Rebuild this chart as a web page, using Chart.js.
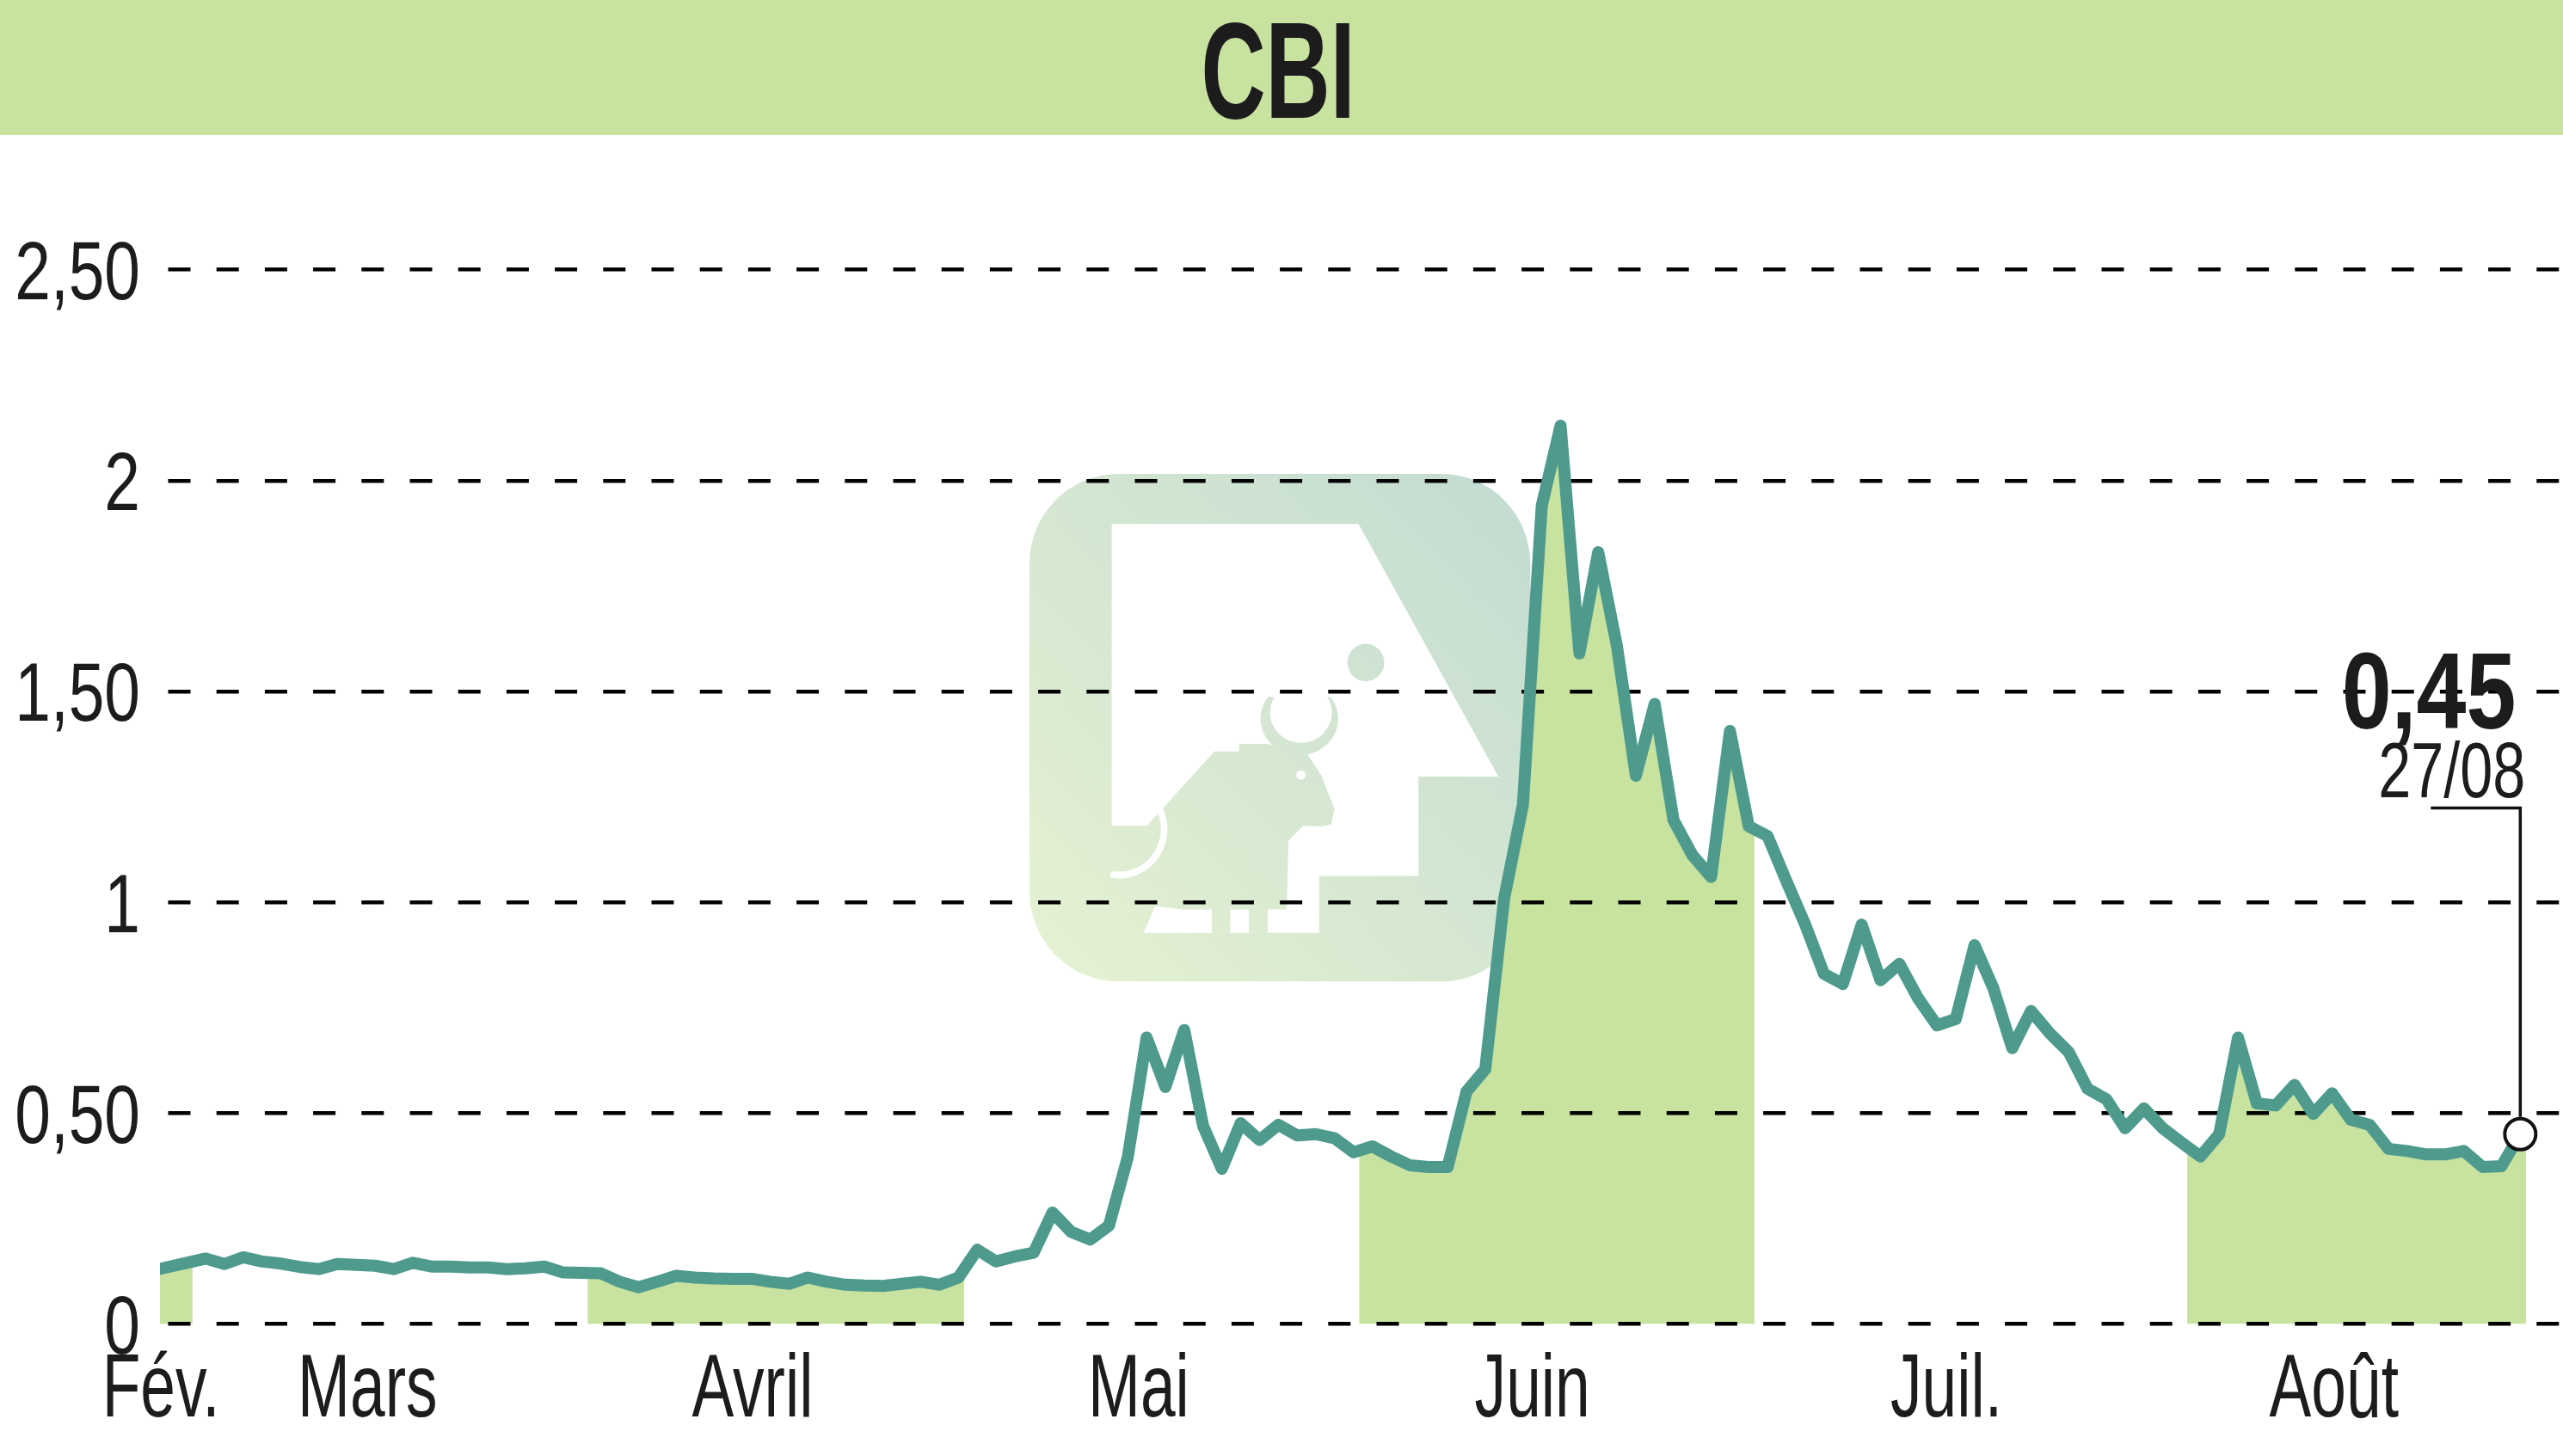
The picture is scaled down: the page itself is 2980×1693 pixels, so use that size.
<!DOCTYPE html>
<html>
<head>
<meta charset="utf-8">
<title>CBI</title>
<script src="https://cdn.jsdelivr.net/npm/chart.js@4.4.1/dist/chart.umd.min.js"></script>
<style>
  html, body { margin: 0; padding: 0; background: #fff; overflow: hidden; }
  #wrap { width: 2980px; height: 1693px; position: relative; }
  #wrap canvas { display: block; }
</style>
</head>
<body>
<div id="wrap"><canvas id="cbi"></canvas></div>
<script>
// --- data (one value per trading day) ---
const title = 'CBI';
const lastDate = '27/08';

const closes = [
  0.125, 0.135, 0.145, 0.155, 0.142, 0.158, 0.148, 0.143, 0.135, 0.13,
  0.142, 0.14, 0.138, 0.13, 0.145, 0.136, 0.136, 0.134, 0.134, 0.13,
  0.132, 0.136, 0.122, 0.121, 0.12, 0.1, 0.087, 0.1, 0.114, 0.11,
  0.108, 0.107, 0.107, 0.1, 0.095, 0.11, 0.1, 0.093, 0.091, 0.09,
  0.095, 0.1, 0.093, 0.11, 0.176, 0.148, 0.16, 0.169, 0.264, 0.218,
  0.2, 0.233, 0.395, 0.679, 0.562, 0.697, 0.47, 0.368, 0.476, 0.436,
  0.472, 0.447, 0.45, 0.44, 0.407, 0.421, 0.397, 0.376, 0.372, 0.372,
  0.551, 0.604, 1.008, 1.232, 1.94, 2.13, 1.59, 1.83, 1.606, 1.30,
  1.47, 1.195, 1.112, 1.06, 1.406, 1.18, 1.157, 1.05, 0.947, 0.83,
  0.806, 0.947, 0.815, 0.854, 0.772, 0.708, 0.723, 0.898, 0.796, 0.654,
  0.742, 0.689, 0.645, 0.558, 0.533, 0.464, 0.511, 0.464, 0.43, 0.397,
  0.45, 0.679, 0.523, 0.518, 0.567, 0.498, 0.547, 0.484, 0.472, 0.415,
  0.41, 0.402, 0.402, 0.41, 0.372, 0.374, 0.45
];

const monthLabels = ['Fév.', 'Mars', 'Avril', 'Mai', 'Juin', 'Juil.', 'Août'];
// where each month name sits, in trading-day units
const monthLabelPos = [0.62, 11.6, 32.06, 52.58, 73.5, 95.5, 116.1];
// month boundaries, in trading-day units (Feb starts before the window)
const monthEdges = [-1, 2.3, 23.3, 43.3, 64.3, 85.3, 108.3, 126.3];

const GREEN = '#c8e2a0';
const TEAL = '#4e9b8e';
const INK = '#1c1c1c';

const fmt = v => Number.isInteger(v) ? String(v) : v.toFixed(2).replace('.', ',');

// the original uses a condensed face, so squeeze text horizontally
function squeezeText(ctx, text, x, y, font, sx, align) {
    ctx.save();
    ctx.font = font;
    ctx.fillStyle = INK;
    ctx.textAlign = align;
    ctx.textBaseline = 'alphabetic';
    ctx.translate(x, y);
    ctx.scale(sx, 1);
    ctx.fillText(text, 0, 0);
    ctx.restore();
}

function poly(ctx, pts) {
    ctx.beginPath();
    pts.forEach(([x, y], i) => i ? ctx.lineTo(x, y) : ctx.moveTo(x, y));
    ctx.closePath();
    ctx.fill();
}

// faint watermark logo behind the curve
function drawLogo(ctx) {
    ctx.save();
    ctx.translate(1190, 540);
    ctx.scale(1 / 2.613, 1 / 2.570);
    const g = ctx.createLinearGradient(18, 1545, 1540, 28);
    g.addColorStop(0, '#e6f2d2');
    g.addColorStop(1, '#c2dbd1');

    ctx.fillStyle = g;
    ctx.beginPath();
    ctx.roundRect(18, 28, 1522, 1517, 270);
    ctx.fill();

    ctx.fillStyle = '#fff';
    poly(ctx, [[268, 178], [1018, 178], [1443, 933], [1200, 933], [1200, 1230], [898, 1230],
        [898, 1400], [365, 1400], [400, 1320], [440, 1320], [440, 1080], [268, 1080]]);

    ctx.fillStyle = g;
    poly(ctx, [[375, 1080], [580, 858], [655, 858], [655, 835], [740, 835], [860, 862], [905, 930],
        [945, 1030], [935, 1075], [905, 1082], [850, 1080], [805, 1125], [800, 1330], [742, 1330],
        [742, 1400], [685, 1400], [685, 1330], [628, 1330], [628, 1400], [572, 1400], [572, 1330],
        [480, 1330], [400, 1320], [375, 1320]]);

    ctx.beginPath();
    ctx.arc(1040, 592, 56, 0, Math.PI * 2);
    ctx.fill();

    // horns
    ctx.save();
    ctx.beginPath();
    ctx.rect(600, 695, 450, 300);
    ctx.clip();
    ctx.beginPath();
    ctx.ellipse(838, 760, 118, 110, 0, 0, Math.PI * 2);
    ctx.ellipse(843, 742, 94, 90, 0, 0, Math.PI * 2);
    ctx.fill('evenodd');
    ctx.restore();

    ctx.fillStyle = '#fff';
    ctx.beginPath();
    ctx.arc(843, 928, 14, 0, Math.PI * 2);
    ctx.fill();

    ctx.strokeStyle = '#fff';
    ctx.lineWidth = 20;
    ctx.beginPath();
    ctx.arc(290, 1090, 137, -0.46, 1.76);
    ctx.stroke();
    ctx.restore();
}

const backdrop = {
    id: 'backdrop',
    beforeDraw(chart) {
        const {ctx, chartArea: area} = chart;
        const xs = chart.scales.x;
        const ys = chart.scales.y;

        // title band
        ctx.save();
        ctx.fillStyle = GREEN;
        ctx.fillRect(0, 0, chart.width, 157);
        ctx.restore();
        squeezeText(ctx, title, 1486, 137, 'bold 160px "Liberation Sans"', 0.65, 'center');

        drawLogo(ctx);

        // green area under the curve for every other month
        const pts = chart.getDatasetMeta(0).data;
        const y0 = ys.getPixelForValue(0);
        const last = pts[pts.length - 1];
        for (let k = 0; k < monthEdges.length - 1; k += 2) {
            const x1 = Math.max(area.left, xs.getPixelForValue(monthEdges[k]));
            const x2 = xs.getPixelForValue(monthEdges[k + 1]);
            ctx.save();
            ctx.beginPath();
            ctx.rect(x1, area.top, x2 - x1, area.bottom - area.top);
            ctx.clip();
            ctx.beginPath();
            ctx.moveTo(pts[0].x, y0);
            pts.forEach(p => ctx.lineTo(p.x, p.y));
            ctx.lineTo(area.right, last.y);
            ctx.lineTo(area.right, y0);
            ctx.closePath();
            ctx.fillStyle = GREEN;
            ctx.fill();
            ctx.restore();
        }
    },
    afterDraw(chart) {
        const {ctx} = chart;
        const xs = chart.scales.x;
        const ys = chart.scales.y;

        ys.ticks.forEach(t => {
            const y = ys.getPixelForValue(t.value);
            squeezeText(ctx, fmt(t.value), 163, y + 34.5, '96px "Liberation Sans"', 0.78, 'right');
        });

        monthLabels.forEach((m, k) => {
            const x = xs.getPixelForValue(monthLabelPos[k]);
            squeezeText(ctx, m, x, 1647, '103px "Liberation Sans"', 0.71, 'center');
        });

        // last value callout
        const pts = chart.getDatasetMeta(0).data;
        const p = pts[pts.length - 1];
        squeezeText(ctx, fmt(closes[closes.length - 1]), p.x - 5, 847, 'bold 127px "Liberation Sans"', 0.82, 'right');
        squeezeText(ctx, lastDate, p.x + 6, 927, '90px "Liberation Sans"', 0.76, 'right');

        ctx.save();
        ctx.strokeStyle = '#111';
        ctx.lineWidth = 3.5;
        ctx.beginPath();
        ctx.moveTo(p.x - 104, 939.5);
        ctx.lineTo(p.x, 939.5);
        ctx.lineTo(p.x, p.y - 20);
        ctx.stroke();
        ctx.restore();
    }
};

new Chart(document.getElementById('cbi'), {
    type: 'line',
    data: {
        datasets: [{
            data: closes.map((v, i) => ({x: i, y: v})),
            borderColor: TEAL,
            borderWidth: 14,
            borderJoinStyle: 'round',
            tension: 0,
            fill: false,
            pointRadius: ctx => ctx.dataIndex === closes.length - 1 ? 18 : 0,
            pointBackgroundColor: '#fff',
            pointBorderColor: '#111',
            pointBorderWidth: 4
        }]
    },
    options: {
        responsive: true,
        maintainAspectRatio: false,
        devicePixelRatio: 1,
        animation: false,
        events: [],
        layout: {autoPadding: false, padding: {left: 186, right: 0, top: 313.6, bottom: 153.6}},
        plugins: {
            legend: {display: false},
            tooltip: {enabled: false}
        },
        scales: {
            x: {type: 'linear', display: false, min: 0.57, max: 128.27},
            y: {
                type: 'linear',
                min: 0,
                max: 2.5,
                ticks: {display: false, stepSize: 0.5},
                grid: {color: '#000', lineWidth: 4.5, drawTicks: false},
                border: {display: false, dash: [26, 30.2], dashOffset: 46.7}
            }
        }
    },
    plugins: [backdrop]
});
</script>
</body>
</html>
